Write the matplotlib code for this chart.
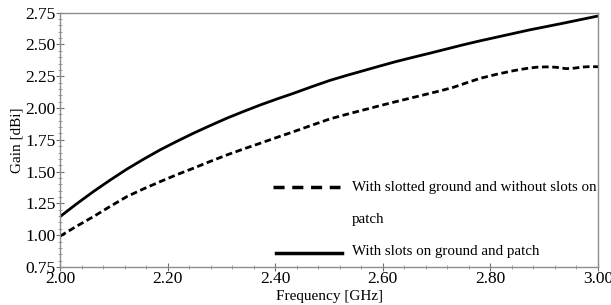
import matplotlib
matplotlib.use("Agg")
import matplotlib.pyplot as plt
from matplotlib.ticker import MultipleLocator, FormatStrFormatter

freq_solid = [2.000, 2.031, 2.062, 2.093, 2.124, 2.155, 2.186, 2.217, 2.248,
              2.279, 2.310, 2.341, 2.372, 2.403, 2.434, 2.468, 2.502, 2.533,
              2.564, 2.594, 2.624, 2.656, 2.688, 2.718, 2.748, 2.779, 2.810,
              2.841, 2.872, 2.904, 2.936, 2.968, 3.000]
gain_solid = [1.146, 1.247, 1.343, 1.433, 1.519, 1.597, 1.671, 1.738, 1.802,
              1.862, 1.920, 1.973, 2.024, 2.071, 2.116, 2.168, 2.218, 2.257,
              2.294, 2.330, 2.365, 2.399, 2.432, 2.464, 2.496, 2.527, 2.556,
              2.585, 2.614, 2.641, 2.668, 2.696, 2.724]

freq_dash = [2.000, 2.031, 2.062, 2.093, 2.124, 2.155, 2.186, 2.217, 2.248,
             2.279, 2.310, 2.341, 2.372, 2.403, 2.434, 2.468, 2.502, 2.533,
             2.564, 2.594, 2.624, 2.656, 2.688, 2.710, 2.731, 2.756, 2.781,
             2.812, 2.843, 2.865, 2.885, 2.904, 2.922, 2.941, 2.956, 2.972,
             2.986, 3.000]
gain_dash = [0.992, 1.071, 1.146, 1.226, 1.303, 1.364, 1.421, 1.476, 1.527,
             1.580, 1.631, 1.678, 1.723, 1.769, 1.814, 1.865, 1.915, 1.951,
             1.985, 2.018, 2.050, 2.083, 2.116, 2.139, 2.163, 2.199, 2.234,
             2.266, 2.294, 2.310, 2.321, 2.324, 2.321, 2.310, 2.314, 2.323,
             2.326, 2.325]

label_dash = "With slotted ground and without slots on"
label_dash2 = "patch"
label_solid = "With slots on ground and patch"

plt.rcParams['font.family'] = ['Liberation Serif', 'DejaVu Serif']

fig = plt.figure(figsize=(6.11, 3.05), dpi=100)
ax = fig.add_axes([60/611, 1 - 267/305, 538/611, 254.3/305])

ax.plot(freq_solid, gain_solid, color='black', lw=2.0, solid_capstyle='butt')
ax.plot(freq_dash, gain_dash, color='black', lw=2.0, linestyle=(0, (2.4, 1.3)))

ax.set_xlim(2.0, 3.0)
ax.set_ylim(0.75, 2.75)
ax.xaxis.set_major_locator(MultipleLocator(0.2))
ax.xaxis.set_minor_locator(MultipleLocator(0.04))
ax.yaxis.set_major_locator(MultipleLocator(0.25))
ax.yaxis.set_minor_locator(MultipleLocator(0.05))
ax.xaxis.set_major_formatter(FormatStrFormatter('%.2f'))
ax.yaxis.set_major_formatter(FormatStrFormatter('%.2f'))

for s in ax.spines.values():
    s.set_color('#8c8c8c')
    s.set_linewidth(1.0)

ax.tick_params(axis='both', which='major', direction='inout', length=6,
               width=0.8, color='#707070', labelsize=12.5, pad=0)
ax.tick_params(axis='both', which='minor', direction='inout', length=3,
               width=0.6, color='#909090')
ax.tick_params(axis='x', which='major', pad=0)

ax.set_xlabel('Frequency [GHz]', fontsize=11, labelpad=0)
ax.set_ylabel('Gain [dBi]', fontsize=11)
ax.yaxis.set_label_coords(-0.068, 0.5)
ax.xaxis.set_label_coords(0.5, -0.09)

# Legend drawn in axes coordinates
tr = ax.transAxes
def ax_x(px):
    return (px - 60) / 538
def ax_y(py):
    return (267 - py) / 254.3

ax.plot([ax_x(273), ax_x(340)], [ax_y(187), ax_y(187)], transform=tr,
        color='black', lw=2.5, linestyle=(0, (3.2, 2.2)), clip_on=False)
ax.text(ax_x(352), ax_y(187), label_dash, transform=tr, fontsize=10.8,
        va='center', ha='left')
ax.text(ax_x(352), ax_y(220), label_dash2, transform=tr, fontsize=10.8,
        va='center', ha='left')
ax.plot([ax_x(276), ax_x(342)], [ax_y(253), ax_y(253)], transform=tr,
        color='black', lw=2.5, clip_on=False)
ax.text(ax_x(352), ax_y(252), label_solid, transform=tr, fontsize=10.8,
        va='center', ha='left')

fig.savefig('out.png', dpi=100)
